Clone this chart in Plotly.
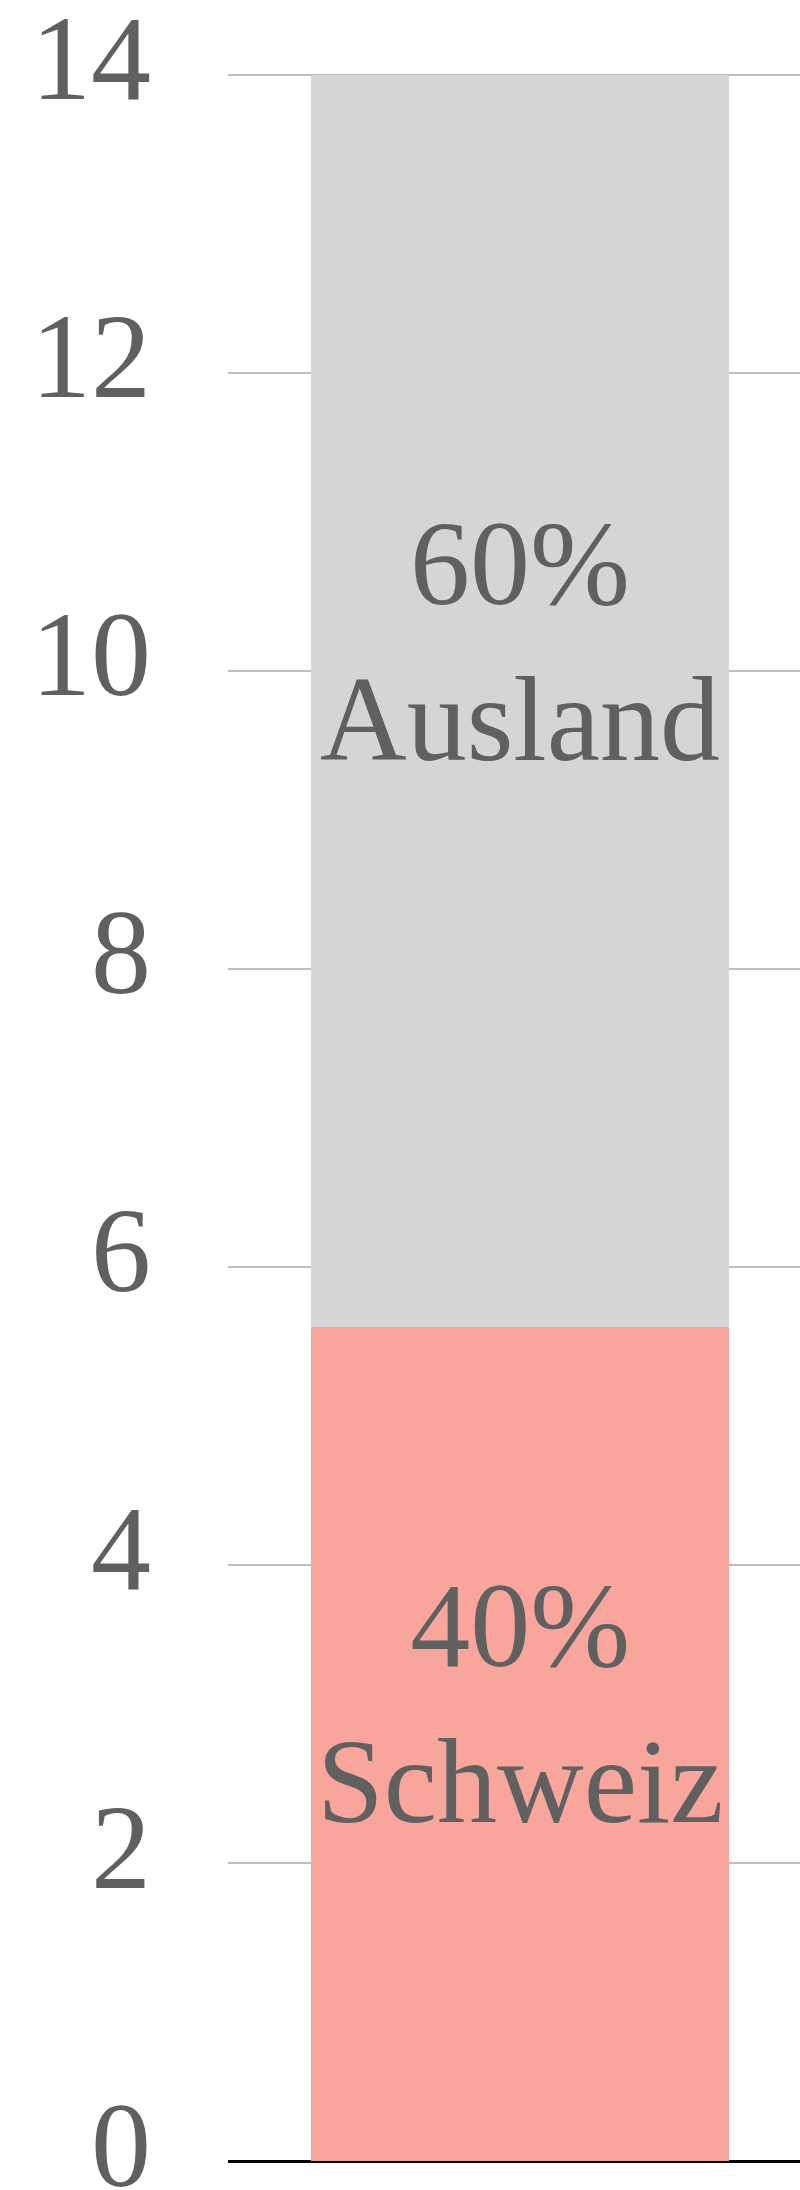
import plotly.graph_objects as go

# data
category = ["Total"]
schweiz = [5.6]
ausland = [8.4]
labels = ["40%<br>Schweiz", "60%<br>Ausland"]
tick_vals = [0, 2, 4, 6, 8, 10, 12, 14]
tick_text = ["0", "2", "4", "6", "8", "10", "12", "14"]

FONT = "Liberation Serif"
TXT = "#606060"

fig = go.Figure()
fig.add_trace(go.Bar(x=[0], y=schweiz, name="Schweiz", width=0.731,
                     marker=dict(color="#f8a59c", line=dict(width=0)), hoverinfo="skip"))
fig.add_trace(go.Bar(x=[0], y=ausland, name="Ausland", width=0.731,
                     marker=dict(color="#d5d5d5", line=dict(width=0)), hoverinfo="skip"))

# labels in the middle of each segment
bottoms = [0, schweiz[0]]
heights = [schweiz[0], ausland[0]]
shifts = [40, 59]
for lab, b, h, s in zip(labels, bottoms, heights, shifts):
    fig.add_annotation(x=0, y=b + h / 2, text=lab, showarrow=False,
                       xanchor="center", yanchor="middle", yshift=s,
                       font=dict(family=FONT, size=120, color=TXT))

# y tick labels as annotations (shifted up like the original)
for v, t in zip(tick_vals, tick_text):
    fig.add_annotation(xref="paper", x=0, y=v, text=t, showarrow=False,
                       xanchor="right", yanchor="middle", xshift=-75, yshift=16,
                       font=dict(family=FONT, size=120, color=TXT))

fig.update_layout(
    barmode="stack",
    width=800, height=2190,
    margin=dict(l=228, r=0, t=72, b=29),
    plot_bgcolor="white", paper_bgcolor="white",
    showlegend=False,
    xaxis=dict(range=[-0.5105, 0.4895], showticklabels=False, showgrid=False,
               zeroline=False, fixedrange=True),
    yaxis=dict(range=[0, 14.02], tickvals=tick_vals, showticklabels=False,
               showgrid=True, gridcolor="#bdbdbd", gridwidth=2,
               zeroline=True, zerolinecolor="#000000", zerolinewidth=2.5,
               fixedrange=True),
)

fig.write_html("out.html", config={"displayModeBar": False},
               post_script="document.body.style.margin='0';")
